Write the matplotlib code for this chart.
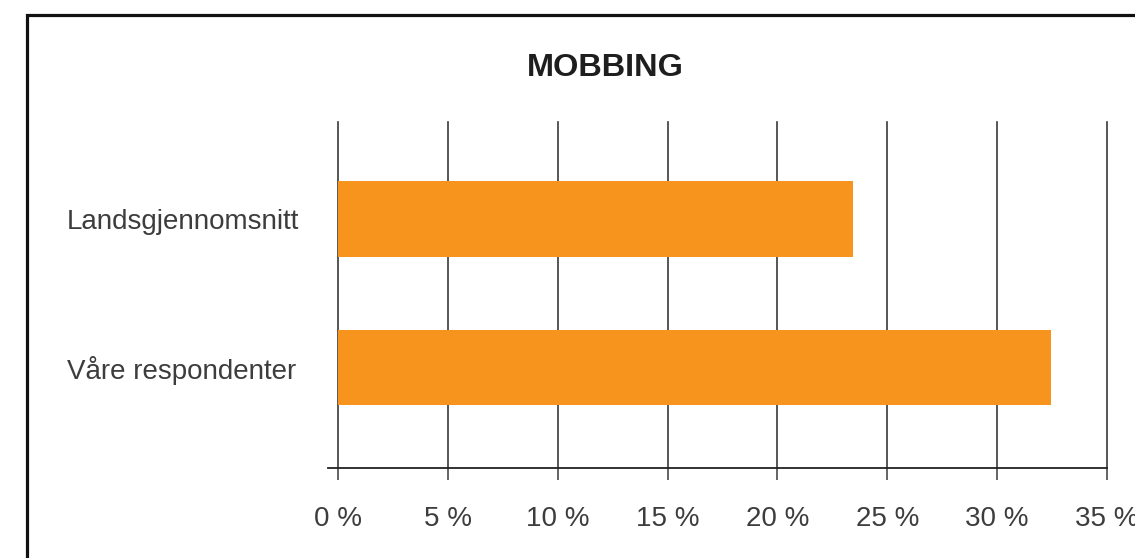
import matplotlib
matplotlib.use("Agg")
import matplotlib.pyplot as plt
from matplotlib.patches import Rectangle

plt.rcParams['font.family'] = ['Liberation Sans', 'DejaVu Sans']

# data
categories = ['Våre respondenter', 'Landsgjennomsnitt']
values = [32.45, 23.45]
ticks = [0, 5, 10, 15, 20, 25, 30, 35]
tick_labels = ['%d %%' % t for t in ticks]

fig = plt.figure(figsize=(11.35, 5.58), dpi=100)
ax = fig.add_axes([328 / 1135, 1 - 468 / 558, (1107 - 328) / 1135, 346 / 558])

ax.barh(range(len(categories)), values, height=0.51, color='#F7941D', zorder=3)

ax.set_xlim(-0.455, 35)
ax.set_ylim(-0.677, 1.653)
ax.set_xticks(ticks)
ax.set_xticklabels(tick_labels)
ax.set_yticks(range(len(categories)))
ax.set_yticklabels(categories, ha='left')

ax.grid(axis='x', color='#3a3a3a', linewidth=1.2, zorder=1)
for gl in ax.get_xgridlines():
    gl.set_clip_on(False)
ax.set_axisbelow(True)
for s in ['left', 'top', 'right']:
    ax.spines[s].set_visible(False)
ax.spines['bottom'].set_color('#222222')
ax.spines['bottom'].set_linewidth(1.3)

ax.tick_params(axis='x', length=8.6, width=1.1, color='#3a3a3a', pad=19,
               labelsize=20, labelcolor='#3d3d3d')
# left aligned labels starting at x ~ 67 px
ax.tick_params(axis='y', length=0, pad=(328 - 67) * 0.72, labelsize=20, labelcolor='#3d3d3d')

fig.text(605 / 1135, 1 - 68 / 558, 'MOBBING', ha='center', va='center',
         fontsize=23.4, fontweight='bold', color='#1e1e1e')

# frame around the figure (right and bottom cut off)
frame = Rectangle((27 / 1135, -0.2), 2, 0.2 + 1 - 15 / 558, transform=fig.transFigure,
                  fill=False, edgecolor='#111111', linewidth=2.3, clip_on=False)
fig.patches.append(frame)

fig.savefig('out.png', dpi=100)
